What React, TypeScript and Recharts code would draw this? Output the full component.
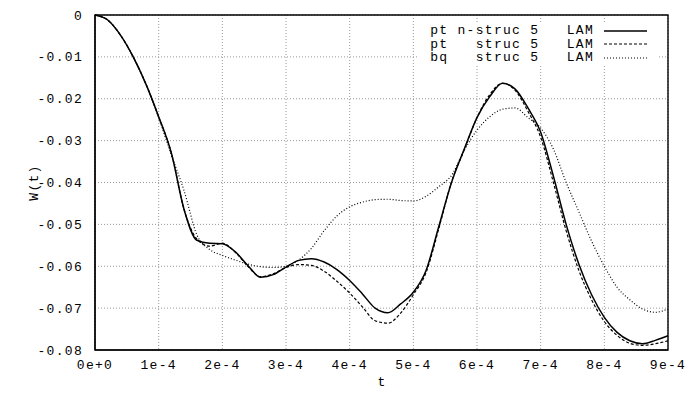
import {
  LineChart,
  Line,
  XAxis,
  YAxis,
  CartesianGrid,
  ReferenceArea,
} from "recharts";

// time in units of 1e-4
const T = [
  0, 0.2, 0.4, 0.6, 0.8, 1.0, 1.2, 1.4, 1.6, 1.8, 2.0, 2.2, 2.4, 2.6, 2.8, 3.0,
  3.2, 3.4, 3.6, 3.8, 4.0, 4.2, 4.4, 4.6, 4.8, 5.0, 5.2, 5.4, 5.6, 5.8, 6.0,
  6.2, 6.4, 6.6, 6.8, 7.0, 7.2, 7.4, 7.6, 7.8, 8.0, 8.2, 8.4, 8.6, 8.8, 9.0,
];

const W_PT_NSTRUC = [
  0, -0.0012, -0.0048, -0.01, -0.0165, -0.0243, -0.033, -0.0465, -0.0538,
  -0.0545, -0.0546, -0.0565, -0.0598, -0.0626, -0.062, -0.0602, -0.0586,
  -0.0582, -0.059, -0.0608, -0.0634, -0.0666, -0.07, -0.0711, -0.069, -0.0662,
  -0.061, -0.0505, -0.04, -0.032, -0.0245, -0.0195, -0.0163, -0.0177, -0.0222,
  -0.028, -0.0385, -0.05, -0.0595, -0.0668, -0.0722, -0.0758, -0.0778,
  -0.0785, -0.0777, -0.0766,
];

const W_PT_STRUC = [
  0, -0.0012, -0.0048, -0.01, -0.0165, -0.0243, -0.033, -0.0465, -0.0535,
  -0.0552, -0.0545, -0.0566, -0.06, -0.0625, -0.0618, -0.0603, -0.0596,
  -0.0598, -0.0612, -0.0636, -0.0664, -0.0697, -0.073, -0.0736, -0.0712,
  -0.0668, -0.0615, -0.051, -0.0398, -0.0322, -0.0245, -0.019, -0.0163,
  -0.018, -0.023, -0.0292, -0.04, -0.0515, -0.061, -0.068, -0.0732, -0.0765,
  -0.0784, -0.0789, -0.0785, -0.0778,
];

const W_BQ_STRUC = [
  0, -0.0012, -0.0048, -0.01, -0.0165, -0.0245, -0.0335, -0.042, -0.0525,
  -0.056, -0.0574, -0.0585, -0.0595, -0.0601, -0.0603, -0.06, -0.0585, -0.0557,
  -0.0515, -0.048, -0.0458, -0.0447, -0.0441, -0.044, -0.0443, -0.0444,
  -0.0433, -0.041, -0.0383, -0.0323, -0.0275, -0.0243, -0.0225, -0.0222,
  -0.0245, -0.027, -0.032, -0.04, -0.047, -0.054, -0.06, -0.065, -0.068,
  -0.0702, -0.071, -0.0702,
];

const SERIES_NAMES = [
  "pt n-struc 5   LAM",
  "pt   struc 5   LAM",
  "bq   struc 5   LAM",
];

const X_TICKS = [0, 1, 2, 3, 4, 5, 6, 7, 8, 9];
const X_TICK_LABELS = [
  "0e+0", "1e-4", "2e-4", "3e-4", "4e-4",
  "5e-4", "6e-4", "7e-4", "8e-4", "9e-4",
];
const Y_TICKS = [0, -0.01, -0.02, -0.03, -0.04, -0.05, -0.06, -0.07, -0.08];

const data = T.map((t, i) => ({
  t,
  a: W_PT_NSTRUC[i],
  b: W_PT_STRUC[i],
  c: W_BQ_STRUC[i],
}));

const FONT = "'Liberation Mono', 'DejaVu Sans Mono', monospace";
const tickStyle = { fontSize: 13, fill: "#000", fontFamily: FONT, letterSpacing: 1.3 };
const dashes = ["", "3 2", "1 2"];

function GnuLegend() {
  return (
    <div
      style={{
        position: "absolute",
        top: 24,
        left: 418,
        fontFamily: FONT,
        fontSize: 13,
        letterSpacing: 1.3,
        color: "#000",
        background: "#fff",
      }}
    >
      {SERIES_NAMES.map((name, i) => (
        <div
          key={name}
          style={{ display: "flex", alignItems: "center", height: 13.5, whiteSpace: "pre" }}
        >
          <span style={{ width: 176, textAlign: "right" }}>{name}</span>
          <svg width={55} height={10} style={{ marginLeft: 9 }}>
            <line
              x1={1}
              x2={44}
              y1={5}
              y2={5}
              stroke="#000"
              strokeWidth={i === 0 ? 1.4 : 1.1}
              strokeDasharray={dashes[i] || undefined}
            />
          </svg>
        </div>
      ))}
    </div>
  );
}

export default function App() {
  return (
    <div style={{ position: "absolute", left: 0, top: 0, width: 686, height: 396, background: "#fff" }}>
      <LineChart
        width={686}
        height={396}
        data={data}
        margin={{ top: 15, right: 18, left: 0, bottom: 0 }}
      >
        <CartesianGrid stroke="#999" strokeDasharray="1 2" strokeWidth={1} />
        <XAxis
          dataKey="t"
          type="number"
          domain={[0, 9]}
          ticks={X_TICKS}
          interval={0}
          tickFormatter={(v: number) => X_TICK_LABELS[X_TICKS.indexOf(v)]}
          tick={tickStyle}
          tickLine={false}
          tickSize={6}
          tickMargin={4}
          height={46}
          axisLine={{ stroke: "#000", strokeWidth: 1.2 }}
          label={{
            value: "t",
            position: "insideBottom",
            offset: 10,
            style: { fontFamily: FONT, fontSize: 13, fill: "#000" },
          }}
        />
        <YAxis
          type="number"
          domain={[-0.08, 0]}
          ticks={Y_TICKS}
          interval={0}
          tickFormatter={(v: number) => (v === 0 ? "0" : v.toFixed(2))}
          tick={tickStyle}
          tickLine={false}
          tickSize={6}
          tickMargin={6}
          width={95}
          axisLine={{ stroke: "#000", strokeWidth: 1.2 }}
          label={{
            value: "W(t)",
            angle: -90,
            position: "insideLeft",
            offset: 33,
            style: { fontFamily: FONT, fontSize: 13, fill: "#000", textAnchor: "middle", letterSpacing: 1.3 },
          }}
        />
        <ReferenceArea
          x1={0}
          x2={9}
          y1={-0.08}
          y2={0}
          fill="none"
          stroke="#000"
          strokeWidth={1.4}
          ifOverflow="visible"
        />
        <Line
          dataKey="a"
          type="monotone"
          stroke="#000"
          strokeWidth={1.5}
          dot={false}
          isAnimationActive={false}
        />
        <Line
          dataKey="b"
          type="monotone"
          stroke="#000"
          strokeWidth={1.2}
          strokeDasharray="3 2"
          dot={false}
          isAnimationActive={false}
        />
        <Line
          dataKey="c"
          type="monotone"
          stroke="#000"
          strokeWidth={1.2}
          strokeDasharray="1 2"
          dot={false}
          isAnimationActive={false}
        />
      </LineChart>
      <GnuLegend />
    </div>
  );
}
